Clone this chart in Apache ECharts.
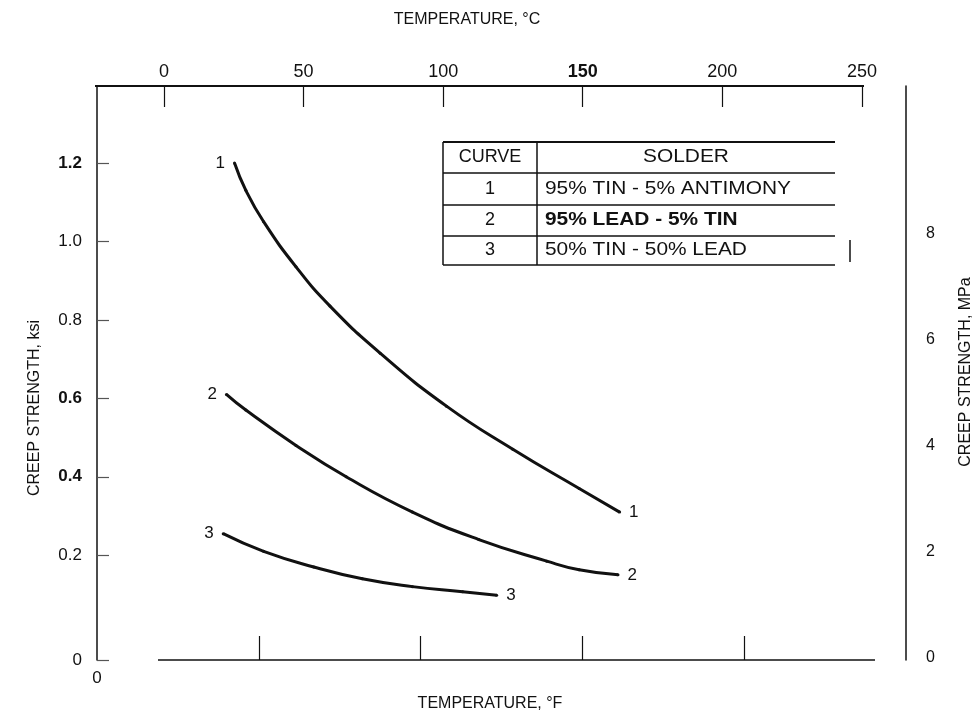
<!DOCTYPE html>
<html>
<head>
<meta charset="utf-8">
<title>Creep strength of solders</title>
<script src="https://cdn.jsdelivr.net/npm/echarts@6/dist/echarts.min.js"></script>
<style>
html, body { margin: 0; padding: 0; background: #fff; }
#chart { width: 979px; height: 712px; }
</style>
</head>
<body>
<div id="chart"></div>
<script>
// curves: temperature in degF, creep strength in ksi
var curve1F   = [85, 92, 103, 123, 144, 175, 216, 257, 298, 323];
var curve1Ksi = [1.20, 1.13, 1.05, 0.935, 0.835, 0.715, 0.58, 0.47, 0.37, 0.31];
var curve2F   = [80, 92, 123, 154, 195, 236, 278, 298, 322];
var curve2Ksi = [0.61, 0.57, 0.48, 0.40, 0.31, 0.24, 0.185, 0.163, 0.15];
var curve3F   = [78, 103, 134, 164, 195, 226, 247];
var curve3Ksi = [0.255, 0.21, 0.17, 0.14, 0.12, 0.107, 0.098];

var curveNames = ['1', '2', '3'];
var ksiTicks = [0.2, 0.4, 0.6, 0.8, 1.0, 1.2];
var mpaTicks = [0, 2, 4, 6, 8];
var celsiusTicks = [0, 50, 100, 150, 200, 250];
var fahrenheitTicks = [100, 200, 300, 400];
var tableHead = ['CURVE', 'SOLDER'];
var tableRows = [
    ['1', '95% TIN - 5% ANTIMONY'],
    ['2', '95% LEAD - 5% TIN'],
    ['3', '50% TIN - 50% LEAD']
];

// the scanned scales are not quite consistent, so each axis gets its own range
var ksiMin = -0.067, ksiMax = 1.396;
var mpaMin = -0.04, mpaMax = 10.79;
var cMin = -24.0, cMax = 265.8;

var ink = '#111';
var font = 'Liberation Sans, Arial, sans-serif';

function curvePoints(xs, ys, name) {
    return xs.map(function (x, i) {
        var item = { value: [x, ys[i]] };
        if (i === 0) item.label = { show: true, position: 'left', distance: 8, formatter: name };
        if (i === xs.length - 1) item.label = { show: true, position: 'right', distance: 8, formatter: name };
        return item;
    });
}

var curves = [
    curvePoints(curve1F, curve1Ksi, curveNames[0]),
    curvePoints(curve2F, curve2Ksi, curveNames[1]),
    curvePoints(curve3F, curve3Ksi, curveNames[2])
];

var series = curves.map(function (pts, i) {
    return {
        name: curveNames[i],
        type: 'line',
        xAxisIndex: 0,
        yAxisIndex: 0,
        smooth: true,
        symbol: 'circle',
        symbolSize: 3,
        lineStyle: { color: ink, width: 3 },
        itemStyle: { color: ink },
        label: { show: false, color: ink, fontSize: 17, fontFamily: font },
        emphasis: { disabled: true },
        data: pts
    };
});

// table of curves
var tx = 443, ty = 142, colW = 94, tableW = 392, rowH = [31, 32, 31, 29];
var table = [];
var yy = ty;
var rowTops = [];
rowH.forEach(function (h) { rowTops.push(yy); yy += h; });
var tableBottom = yy;
table.push({ type: 'line', shape: { x1: tx, y1: ty, x2: tx + tableW, y2: ty }, style: { stroke: ink, lineWidth: 2 } });
rowTops.slice(1).concat([tableBottom]).forEach(function (y) {
    table.push({ type: 'line', shape: { x1: tx, y1: y, x2: tx + tableW, y2: y }, style: { stroke: ink, lineWidth: 1.5 } });
});
table.push({ type: 'line', shape: { x1: tx, y1: ty, x2: tx, y2: tableBottom }, style: { stroke: ink, lineWidth: 1.5 } });
table.push({ type: 'line', shape: { x1: tx + colW, y1: ty, x2: tx + colW, y2: tableBottom }, style: { stroke: ink, lineWidth: 1.5 } });
table.push({ type: 'line', shape: { x1: 850, y1: 240, x2: 850, y2: 262 }, style: { stroke: ink, lineWidth: 1.5 } });
var allRows = [tableHead].concat(tableRows);
allRows.forEach(function (r, i) {
    var cy = rowTops[i] + rowH[i] / 2;
    table.push({ type: 'text', x: tx + colW / 2, y: cy,
        style: { text: r[0], fill: ink, font: '18px ' + font, align: 'center', verticalAlign: 'middle' } });
    table.push({ type: 'text', x: i === 0 ? tx + colW + (tableW - colW) / 2 : tx + colW + 8, y: cy, scaleX: 1.16,
        style: { text: r[1], fill: ink, font: (i === 2 ? 'bold ' : '') + '18px ' + font,
            align: i === 0 ? 'center' : 'left', verticalAlign: 'middle' } });
});

var chart = echarts.init(document.getElementById('chart'));
var option = {
    animation: false,
    backgroundColor: '#fff',
    grid: { left: 97, right: 73, top: 86, bottom: 52 },
    xAxis: [
        {
            type: 'value', position: 'bottom',
            min: 0, max: 500, interval: 100,
            axisLine: { show: false, onZero: false },
            splitLine: { show: false },
            axisTick: { inside: true, length: 24, customValues: fahrenheitTicks, lineStyle: { color: ink, width: 1.2 } },
            axisLabel: { customValues: [0], margin: 10, color: ink, fontSize: 17, fontFamily: font }
        },
        {
            type: 'value', position: 'top',
            min: cMin, max: cMax,
            axisLine: { show: false, onZero: false },
            splitLine: { show: false },
            axisTick: { inside: true, length: 21, customValues: celsiusTicks, lineStyle: { color: ink, width: 1.2 } },
            axisLabel: {
                customValues: celsiusTicks, margin: 5, color: ink, fontSize: 18, fontFamily: font,
                formatter: function (v) { return v === 150 ? '{b|150}' : String(v); },
                rich: { b: { fontWeight: 'bold', fontSize: 18, fontFamily: font, color: ink } }
            }
        }
    ],
    yAxis: [
        {
            type: 'value', position: 'left',
            min: ksiMin, max: ksiMax,
            axisLine: { show: true, onZero: false, lineStyle: { color: ink, width: 1.5 } },
            splitLine: { show: false },
            axisTick: { show: true, inside: true, length: 12, customValues: [ksiMin].concat(ksiTicks), lineStyle: { color: '#555', width: 1.2 } },
            axisLabel: {
                customValues: [ksiMin].concat(ksiTicks), margin: 15, color: ink, fontSize: 17, fontFamily: font,
                formatter: function (v) {
                    if (v < 0) return '0';
                    var s = v.toFixed(1);
                    return (s === '1.2' || s === '0.6' || s === '0.4') ? '{b|' + s + '}' : s;
                },
                rich: { b: { fontWeight: 'bold', fontSize: 17, fontFamily: font, color: ink } }
            }
        },
        {
            type: 'value', position: 'right',
            min: mpaMin, max: mpaMax,
            axisLine: { show: true, onZero: false, lineStyle: { color: ink, width: 1.5 } },
            splitLine: { show: false },
            axisTick: { show: false },
            axisLabel: { customValues: mpaTicks, margin: 20, color: ink, fontSize: 16, fontFamily: font }
        }
    ],
    graphic: [
        { type: 'line', shape: { x1: 95, y1: 86, x2: 864, y2: 86 }, style: { stroke: ink, lineWidth: 2 } },
        { type: 'line', shape: { x1: 158, y1: 660, x2: 875, y2: 660 }, style: { stroke: ink, lineWidth: 1.5 } },
        { type: 'text', x: 467, y: 20, style: { text: 'TEMPERATURE, °C', fill: ink, font: '16px ' + font, align: 'center', verticalAlign: 'middle' } },
        { type: 'text', x: 490, y: 704, style: { text: 'TEMPERATURE, °F', fill: ink, font: '16px ' + font, align: 'center', verticalAlign: 'middle' } },
        { type: 'text', x: 35, y: 408, rotation: Math.PI / 2, style: { text: 'CREEP STRENGTH, ksi', fill: ink, font: '16px ' + font, align: 'center', verticalAlign: 'middle' } },
        { type: 'text', x: 966, y: 372, rotation: Math.PI / 2, style: { text: 'CREEP STRENGTH, MPa', fill: ink, font: '16px ' + font, align: 'center', verticalAlign: 'middle' } }
    ].concat(table),
    series: series
};
chart.setOption(option);
</script>
</body>
</html>
